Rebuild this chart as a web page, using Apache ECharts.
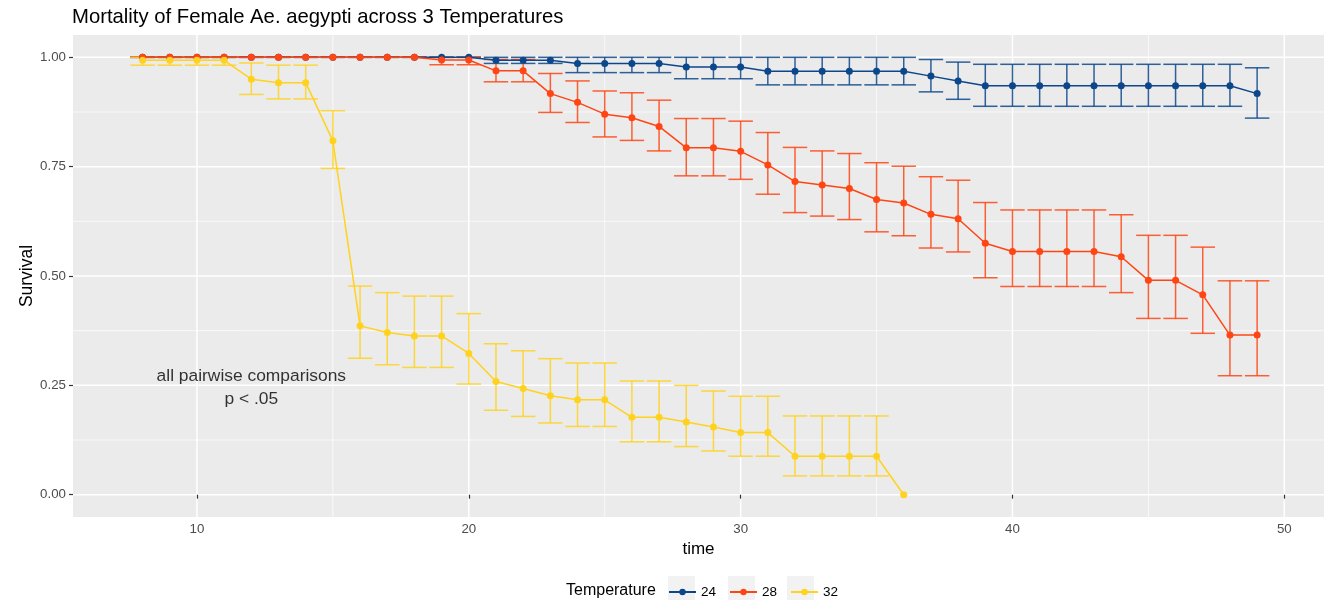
<!DOCTYPE html>
<html lang="en">
<head>
<meta charset="UTF-8">
<title>Mortality of Female Ae. aegypti</title>
<script src="https://cdn.jsdelivr.net/npm/echarts@6/dist/echarts.min.js"></script>
<style>
  html, body { margin: 0; padding: 0; background: #fff; }
  #chart { width: 1325px; height: 600px; }
</style>
</head>
<body>
<div id="chart"></div>
<script>
// days
const time24 = [8,9,10,11,12,13,14,15,16,17,18,19,20,21,22,23,24,25,26,27,28,29,30,31,32,33,34,35,36,37,38,39,40,41,42,43,44,45,46,47,48,49];
const time28 = time24;
const time32 = [8,9,10,11,12,13,14,15,16,17,18,19,20,21,22,23,24,25,26,27,28,29,30,31,32,33,34,35,36];

// survival + error bar bounds
const surv24 = [1,1,1,1,1,1,1,1,1,1,1,1,1,0.993,0.993,0.993,0.986,0.986,0.986,0.986,0.978,0.978,0.978,0.968,0.968,0.968,0.968,0.968,0.968,0.957,0.946,0.935,0.935,0.935,0.935,0.935,0.935,0.935,0.935,0.935,0.935,0.917];
const lo24   = [1,1,1,1,1,1,1,1,1,1,1,1,1,0.986,0.986,0.986,0.965,0.965,0.965,0.965,0.951,0.951,0.951,0.937,0.937,0.937,0.937,0.937,0.937,0.921,0.904,0.888,0.888,0.888,0.888,0.888,0.888,0.888,0.888,0.888,0.888,0.861];
const hi24   = [1,1,1,1,1,1,1,1,1,1,1,1,1,1,1,1,1,1,1,1,1,1,1,1,1,1,1,1,1,0.995,0.989,0.984,0.984,0.984,0.984,0.984,0.984,0.984,0.984,0.984,0.984,0.976];

const surv28 = [1,1,1,1,1,1,1,1,1,1,1,0.994,0.994,0.969,0.969,0.917,0.897,0.870,0.862,0.842,0.793,0.793,0.785,0.754,0.716,0.708,0.700,0.675,0.667,0.641,0.631,0.575,0.556,0.556,0.556,0.556,0.544,0.490,0.490,0.457,0.365,0.365];
const lo28   = [1,1,1,1,1,1,1,1,1,1,1,0.983,0.983,0.944,0.944,0.874,0.851,0.818,0.810,0.786,0.729,0.729,0.721,0.687,0.645,0.637,0.629,0.601,0.592,0.564,0.555,0.496,0.476,0.476,0.476,0.476,0.462,0.403,0.403,0.369,0.272,0.272];
const hi28   = [1,1,1,1,1,1,1,1,1,1,1,1,1,0.995,0.995,0.963,0.946,0.923,0.919,0.902,0.860,0.860,0.854,0.828,0.794,0.786,0.780,0.759,0.751,0.727,0.719,0.668,0.651,0.651,0.651,0.651,0.640,0.593,0.593,0.566,0.489,0.489];

const surv32 = [0.993,0.993,0.993,0.993,0.950,0.942,0.942,0.809,0.386,0.371,0.363,0.363,0.323,0.259,0.243,0.226,0.217,0.217,0.177,0.177,0.166,0.155,0.142,0.142,0.088,0.088,0.088,0.088,0];
const lo32   = [0.982,0.982,0.982,0.982,0.915,0.905,0.905,0.746,0.312,0.297,0.291,0.291,0.253,0.193,0.179,0.164,0.156,0.156,0.121,0.121,0.110,0.100,0.088,0.088,0.043,0.043,0.043,0.043,null];
const hi32   = [1,1,1,1,0.987,0.982,0.982,0.878,0.477,0.462,0.454,0.454,0.414,0.345,0.329,0.311,0.301,0.301,0.260,0.260,0.250,0.237,0.225,0.225,0.180,0.180,0.180,0.180,null];

const xTicks = [10,20,30,40,50];
const xMinor = [15,25,35,45];
const yTicks = [0,0.25,0.5,0.75,1];
const yMinor = [0.125,0.375,0.625,0.875];
const annotation = [12, 0.245];

const groups = [
  { name: '24', color: '#0C478B', t: time24, s: surv24, lo: lo24, hi: hi24 },
  { name: '28', color: '#FF4514', t: time28, s: surv28, lo: lo28, hi: hi28 },
  { name: '32', color: '#FFD21F', t: time32, s: surv32, lo: lo32, hi: hi32 }
];

const FONT = 'Liberation Sans, Arial, sans-serif';
const CAP = 0.45; // half width of error bar cap, in days

var chart = echarts.init(document.getElementById('chart'));

var series = [];

// panel grid lines (white), major + minor, as a custom series under everything
function gridSeries(values, isX, width) {
  return {
    type: 'custom', name: 'grid', z: 0, silent: true,
    data: values.map(v => [v]),
    renderItem: function (params, api) {
      var cs = params.coordSys;
      var v = api.value(0);
      var shape;
      if (isX) {
        var x = api.coord([v, 0])[0];
        shape = { x1: x, y1: cs.y, x2: x, y2: cs.y + cs.height };
      } else {
        var y = api.coord([10, v])[1];
        shape = { x1: cs.x, y1: y, x2: cs.x + cs.width, y2: y };
      }
      return { type: 'line', shape: shape, style: { stroke: '#fff', lineWidth: width } };
    }
  };
}
series.push(gridSeries(xMinor, true, 0.7));
series.push(gridSeries(yMinor, false, 0.7));
series.push(gridSeries(xTicks, true, 1.5));
series.push(gridSeries(yTicks, false, 1.5));

// error bars
groups.forEach(g => {
  series.push({
    type: 'custom', name: g.name + ' se', z: 2,
    data: g.t.map((t, i) => [t, g.lo[i], g.hi[i]]),
    renderItem: function (params, api) {
      if (api.value(1) == null || isNaN(api.value(1))) return;
      var t = api.value(0);
      var lo = api.value(1), hi = api.value(2);
      var a = api.coord([t - CAP, hi]), b = api.coord([t + CAP, hi]);
      var c = api.coord([t - CAP, lo]), d = api.coord([t + CAP, lo]);
      var m1 = api.coord([t, hi]), m2 = api.coord([t, lo]);
      var st = { stroke: g.color, lineWidth: 1.5, opacity: 0.85 };
      return {
        type: 'group',
        children: [
          { type: 'line', shape: { x1: a[0], y1: a[1], x2: b[0], y2: b[1] }, style: st },
          { type: 'line', shape: { x1: c[0], y1: c[1], x2: d[0], y2: d[1] }, style: st },
          { type: 'line', shape: { x1: m1[0], y1: m1[1], x2: m2[0], y2: m2[1] }, style: st }
        ]
      };
    }
  });
});

// lines + points
groups.forEach((g, k) => {
  series.push({
    type: 'line', name: g.name, z: 3 + k,
    data: g.t.map((t, i) => [t, g.s[i]]),
    symbol: 'circle', symbolSize: 7, showSymbol: true,
    lineStyle: { color: g.color, width: 1.5 },
    itemStyle: { color: g.color },
    animation: false
  });
});

// text annotation
series.push({
  type: 'scatter', name: 'note', z: 6, silent: true,
  data: [annotation], symbolSize: 0,
  label: {
    show: true, position: 'inside',
    formatter: 'all pairwise comparisons\np < .05',
    fontFamily: FONT, fontSize: 17.4, lineHeight: 23, color: '#000',
    textBorderWidth: 0, align: 'center'
  }
});

chart.setOption({
  backgroundColor: '#fff',
  animation: false,
  title: {
    text: 'Mortality of Female Ae. aegypti across 3 Temperatures',
    left: 72, top: 7, padding: 0,
    textStyle: { fontFamily: FONT, fontSize: 20.3, fontWeight: 'normal', color: '#000' }
  },
  grid: {
    left: 73, right: 1, top: 35, bottom: 83,
    show: true, backgroundColor: '#EBEBEB', borderWidth: 0
  },
  xAxis: {
    type: 'value', min: 5.44, max: 51.46,
    name: 'time', nameLocation: 'middle', nameGap: 21,
    nameTextStyle: { fontFamily: FONT, fontSize: 17, color: '#000' },
    axisLine: { show: false },
    axisTick: { show: true, customValues: xTicks, length: 4, lineStyle: { color: '#333', width: 1.2 } },
    axisLabel: { customValues: xTicks, fontFamily: FONT, fontSize: 13.3, color: '#4D4D4D', margin: 6 },
    splitLine: { show: false }
  },
  yAxis: {
    type: 'value', min: -0.051, max: 1.051,
    name: 'Survival', nameLocation: 'middle', nameGap: 37, nameRotate: 90,
    nameMoveOverlap: false,
    nameTextStyle: { fontFamily: FONT, fontSize: 17.5, color: '#000' },
    axisLine: { show: false },
    axisTick: { show: true, customValues: yTicks, length: 4, lineStyle: { color: '#333', width: 1.2 } },
    axisLabel: {
      customValues: yTicks, fontFamily: FONT, fontSize: 13.3, color: '#4D4D4D', margin: 7,
      formatter: v => v.toFixed(2)
    },
    splitLine: { show: false }
  },
  legend: {
    data: ['24', '28', '32'],
    left: 668, top: 585, orient: 'horizontal', padding: 0,
    itemWidth: 27, itemHeight: 8, itemGap: 13,
    textStyle: { fontFamily: FONT, fontSize: 13.5, color: '#000' },
    selectedMode: false
  },
  graphic: [
    { type: 'text', left: 566, top: 583,
      style: { text: 'Temperature', fontFamily: FONT, fontSize: 16, fill: '#000' } },
    { type: 'rect', left: 668, top: 576, z: -1, shape: { width: 27, height: 27 }, style: { fill: '#F2F2F2' } },
    { type: 'rect', left: 728, top: 576, z: -1, shape: { width: 27, height: 27 }, style: { fill: '#F2F2F2' } },
    { type: 'rect', left: 787, top: 576, z: -1, shape: { width: 27, height: 27 }, style: { fill: '#F2F2F2' } }
  ],
  series: series
});
</script>
</body>
</html>
